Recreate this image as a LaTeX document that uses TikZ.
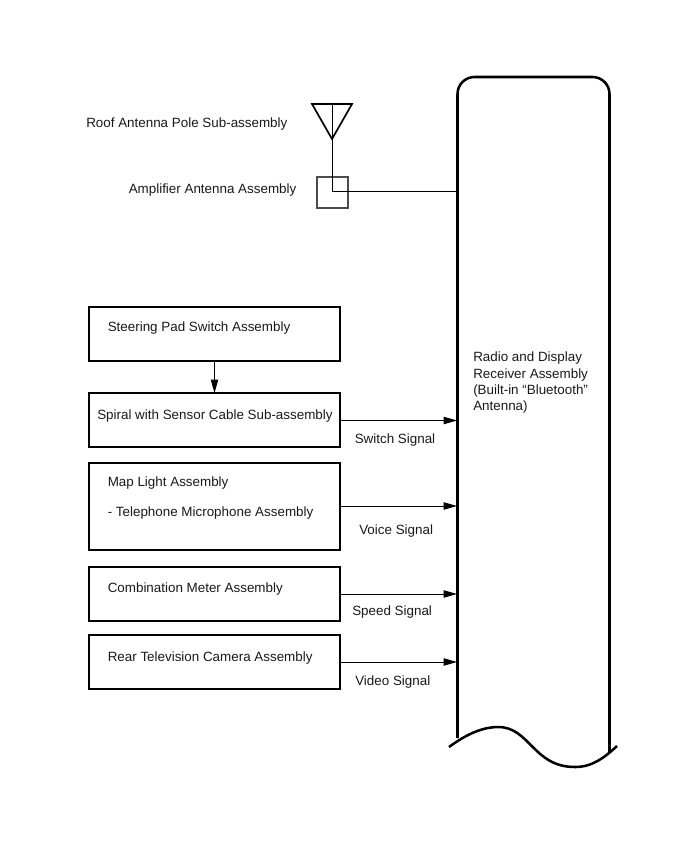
\documentclass[tikz,border=0pt]{standalone}
\usepackage{fontspec}
\setmainfont{Liberation Sans}
\usetikzlibrary{arrows.meta}
\tikzset{
  x=0.75pt, y=-0.75pt,
  unitbox/.style={draw=black, line width=1.05pt, minimum width=188.25pt, inner sep=0pt, outer sep=0pt, anchor=north west},
  caption/.style={anchor=west, inner sep=0pt, font=\fontsize{10.05pt}{12pt}\selectfont, text=black!90},
  signal/.style={draw=black, line width=0.7pt, -{Triangle[length=10pt,width=5.5pt]}},
  thinwire/.style={draw=black, line width=0.75pt},
  bodyline/.style={draw=black, line width=1.9pt, line join=round}
}
\begin{document}
\begin{tikzpicture}
\useasboundingbox (0,0) rectangle (690,855);

% Receiver outline with its wavy break at the bottom
\draw[bodyline] (457.5,738) -- (457.5,94) arc[start angle=180, end angle=90, radius=12.75pt] -- (592.5,77)
  arc[start angle=90, end angle=0, radius=12.75pt] -- (609.5,752);
\draw[bodyline] (449,747) .. controls (468,733) and (484,727) .. (498,727)
  .. controls (530,727) and (533,767) .. (575,767)
  .. controls (593,767) and (605,757) .. (617,746);
\coordinate (rxAnt) at (457,192);
\coordinate (rxSwitch) at (457,420.5);
\coordinate (rxVoice) at (457,506);
\coordinate (rxSpeed) at (457,594);
\coordinate (rxVideo) at (457,662);

% Antenna and amplifier
\coordinate (feedTop) at (332,104);
\coordinate (feedBend) at (332,192);
\draw[line width=1.25pt, line join=miter] (312,104) -- (352,104) -- (332,139) -- cycle;
\node[draw=black!70, line width=0.9pt, minimum size=23.25pt, inner sep=0pt, outer sep=0pt] (amp) at (332.5,192.5) {};
\draw[thinwire] (feedTop) -- (feedBend) -- (rxAnt);

% Signal source boxes
\node[unitbox, minimum height=40.5pt] (steer) at (89,307) {};
\node[unitbox, minimum height=40.5pt] (spiral) at (89,393) {};
\node[unitbox, minimum height=65.25pt] (maplight) at (89,463) {};
\node[unitbox, minimum height=40.5pt] (meter) at (89,567) {};
\node[unitbox, minimum height=40.5pt] (camera) at (89,635) {};

% Connectors
\draw[signal] (steer.south -| 214.5,361) -- (214.5,393);
\draw[signal] (spiral.east |- rxSwitch) -- (rxSwitch);
\draw[signal] (maplight.east |- rxVoice) -- (rxVoice);
\draw[signal] (meter.east |- rxSpeed) -- (rxSpeed);
\draw[signal] (camera.east |- rxVideo) -- (rxVideo);

% Labels
\node[caption] at (86,123.7) {Roof Antenna Pole Sub-assembly};
\node[caption] at (128.5,189.7) {Amplifier Antenna Assembly};
\node[caption] at (107.5,327.7) {Steering Pad Switch Assembly};
\node[caption] at (97,416) {Spiral with Sensor Cable Sub-assembly};
\node[caption] at (107.5,482.7) {Map Light Assembly};
\node[caption] at (107.5,512.7) {- Telephone Microphone Assembly};
\node[caption] at (107.5,588.7) {Combination Meter Assembly};
\node[caption] at (107.5,657.7) {Rear Television Camera Assembly};
\node[caption] at (354.5,440.2) {Switch Signal};
\node[caption] at (359,530.7) {Voice Signal};
\node[caption] at (352,611.7) {Speed Signal};
\node[caption] at (355,682.2) {Video Signal};
\node[caption] at (473,357.7) {Radio and Display};
\node[caption] at (473,374.7) {Receiver Assembly};
\node[caption] at (473,390.7) {(Built-in “Bluetooth”};
\node[caption] at (473,406.7) {Antenna)};
\end{tikzpicture}
\end{document}
